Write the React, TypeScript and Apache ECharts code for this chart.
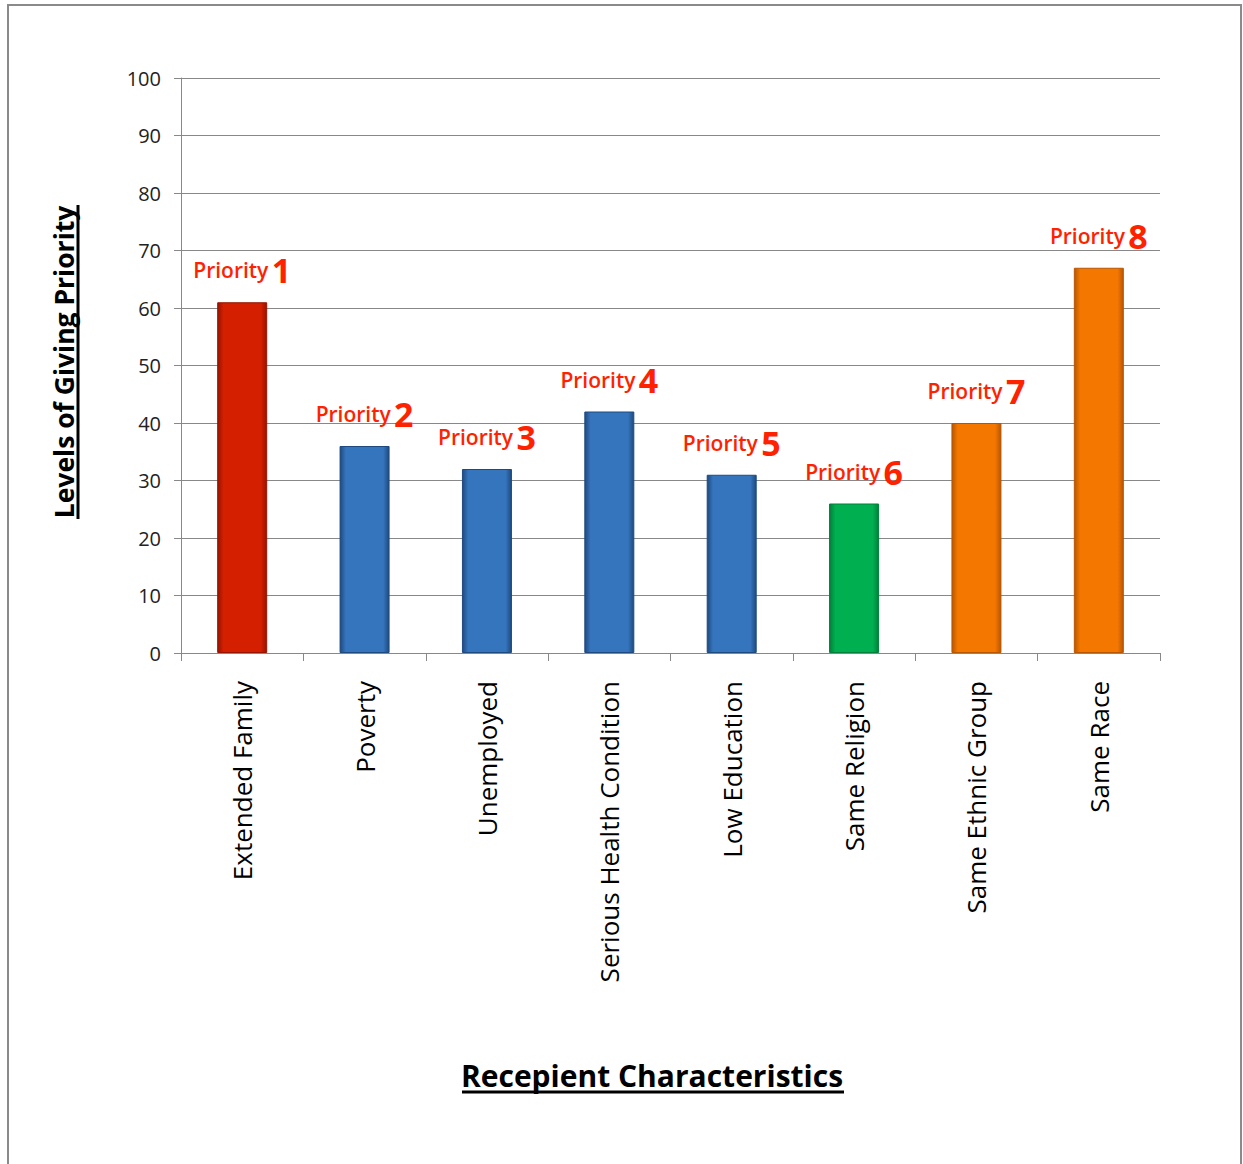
import React, { useEffect, useRef } from "react";
import * as echarts from "echarts";

const categories = [
  "Extended Family",
  "Poverty",
  "Unemployed",
  "Serious Health Condition",
  "Low Education",
  "Same Religion",
  "Same Ethnic Group",
  "Same Race",
];
const values = [61, 36, 32, 42, 31, 26, 40, 67];
const priorities = [1, 2, 3, 4, 5, 6, 7, 8];
const barBase = ["#d41f00", "#3575bd", "#3575bd", "#3575bd", "#3575bd", "#00b050", "#f47800", "#f47800"];
const barEdge = ["#961400", "#1e4a80", "#1e4a80", "#1e4a80", "#1e4a80", "#00803a", "#b85600", "#b85600"];
const yTicks = [0, 10, 20, 30, 40, 50, 60, 70, 80, 90, 100];

const FONT = "'Open Sans', sans-serif";

export default function App() {
  const ref = useRef<HTMLDivElement>(null);
  useEffect(() => {
    document.body.style.margin = "0";
    const chart = echarts.init(ref.current!, null, { renderer: "svg" });
    const data = values.map((v, i) => ({
      value: v,
      itemStyle: {
        color: {
          type: "linear",
          x: 0, y: 0, x2: 1, y2: 0,
          colorStops: [
            { offset: 0, color: barEdge[i] },
            { offset: 0.12, color: barBase[i] },
            { offset: 0.88, color: barBase[i] },
            { offset: 1, color: barEdge[i] },
          ],
        },
        borderColor: barEdge[i],
        borderWidth: 1,
      },
      label: {
        show: true,
        position: "top",
        distance: 15,
        formatter: `{a|Priority} {b|${priorities[i]}}`,
        rich: {
          a: { color: "#ff2200", fontSize: 21, fontWeight: 600, fontFamily: FONT },
          b: { color: "#ff2200", fontSize: 34, fontWeight: 700, fontFamily: FONT },
        },
      },
    }));
    chart.setOption({
      animation: false,
      backgroundColor: "#ffffff",
      grid: { left: 181, right: 83, top: 78, bottom: 511, containLabel: false },
      xAxis: {
        type: "category",
        data: categories,
        axisLine: { lineStyle: { color: "#888", width: 1 } },
        axisTick: { show: true, length: 8, lineStyle: { color: "#888" }, alignWithLabel: false },
        axisLabel: {
          rotate: 90,
          margin: 28,
          fontSize: 26,
          color: "#000",
          fontFamily: FONT,
          interval: 0,
        },
      },
      yAxis: {
        type: "value",
        min: 0,
        max: 100,
        interval: 10,
        axisLine: { show: true, lineStyle: { color: "#888", width: 1 } },
        axisTick: { show: true, length: 7, lineStyle: { color: "#888" } },
        splitLine: { lineStyle: { color: "#888", width: 1 } },
        axisLabel: {
          fontSize: 20,
          color: "#222",
          fontFamily: FONT,
          margin: 20,
          formatter: (v: number) => (yTicks.includes(v) ? String(v) : ""),
        },
      },
      series: [
        {
          type: "bar",
          data,
          barWidth: 50,
        },
      ],
      graphic: [
        {
          type: "rect",
          shape: { x: 8, y: 5, width: 1233, height: 1170 },
          style: { fill: "none", stroke: "#8a8a8a", lineWidth: 2 },
          silent: true,
        },
        {
          type: "text",
          x: 64,
          y: 362,
          rotation: Math.PI / 2,
          style: {
            text: "Levels of Giving Priority",
            fontSize: 26.5,
            fontWeight: 700,
            fontFamily: FONT,
            fill: "#000",
            align: "center",
            verticalAlign: "middle",
          },
        },
        {
          type: "line",
          shape: { x1: 78, y1: 205, x2: 78, y2: 519 },
          style: { stroke: "#000", lineWidth: 3 },
        },
        {
          type: "text",
          x: 652,
          y: 1075,
          style: {
            text: "Recepient Characteristics",
            fontSize: 30,
            fontWeight: 700,
            fontFamily: FONT,
            fill: "#000",
            align: "center",
            verticalAlign: "middle",
          },
        },
        {
          type: "line",
          shape: { x1: 462, y1: 1092, x2: 844, y2: 1092 },
          style: { stroke: "#000", lineWidth: 3 },
        },
      ],
    });
    return () => chart.dispose();
  }, []);
  return <div ref={ref} style={{ width: 1243, height: 1164 }} />;
}
